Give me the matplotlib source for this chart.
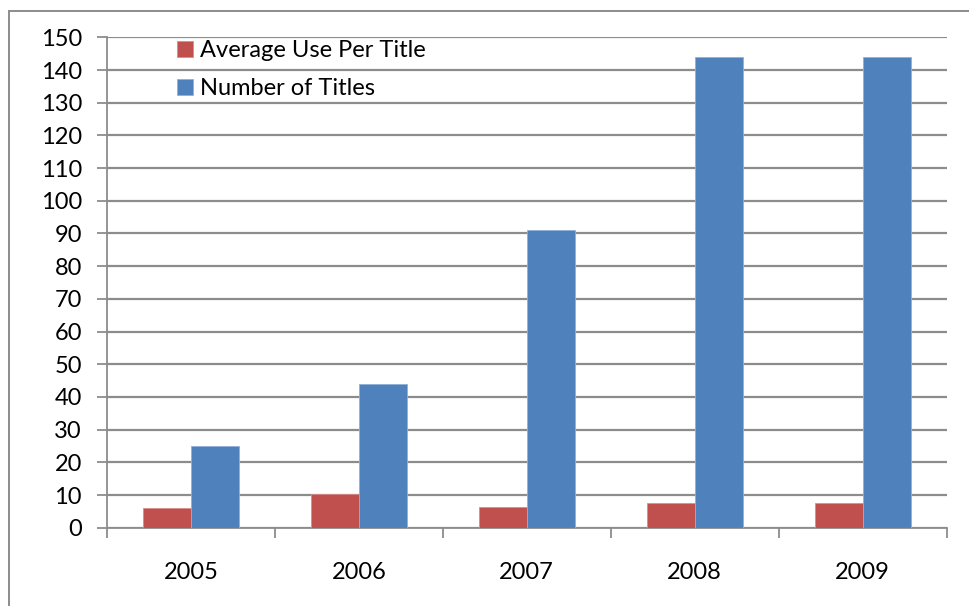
import matplotlib
matplotlib.use("Agg")
import matplotlib.pyplot as plt
import numpy as np
from matplotlib.lines import Line2D

plt.rcParams['font.family'] = ['Lato', 'DejaVu Sans']

years = ["2005", "2006", "2007", "2008", "2009"]
avg_use_per_title = [6.1, 10.3, 6.3, 7.7, 7.5]
number_of_titles = [25, 44, 91, 144, 144]
y_ticks = list(range(0, 151, 10))

RED = "#C0504D"
BLUE = "#4F81BD"
GRID = "#8C8C8C"

fig = plt.figure(figsize=(9.69, 6.06), dpi=100)
ax = fig.add_axes([0.1104, 0.1292, 0.8664, 0.8092])

x = np.arange(len(years))
w = 1 / 3.5
ax.bar(x - w / 2, avg_use_per_title, width=w, color=RED, edgecolor="#D98C8A",
       linewidth=0.6, label="Average Use Per Title", zorder=3)
ax.bar(x + w / 2, number_of_titles, width=w, color=BLUE, edgecolor="#8FB0DA",
       linewidth=0.6, label="Number of Titles", zorder=3)

ax.set_xlim(-0.5, len(years) - 0.5)
ax.set_ylim(0, 150)
ax.set_yticks(y_ticks)
ax.set_yticklabels([str(v) for v in y_ticks])
ax.yaxis.grid(True, color=GRID, linewidth=1.6, zorder=0)
ax.set_axisbelow(True)

# category labels centred, tick marks on the category boundaries
ax.set_xticks(x)
ax.set_xticklabels(years)
ax.set_xticks(np.arange(-0.5, len(years)), minor=True)
ax.tick_params(axis="x", which="major", length=0, pad=25, labelsize=17)
ax.tick_params(axis="x", which="minor", length=7, width=1.3, color=GRID,
               direction="out")
ax.tick_params(axis="y", length=7, width=1.3, color=GRID, pad=11, labelsize=17)

for side in ("top", "right"):
    ax.spines[side].set_visible(False)
for side in ("left", "bottom"):
    ax.spines[side].set_color(GRID)
    ax.spines[side].set_linewidth(1.3)

leg = ax.legend(loc="upper left", bbox_to_anchor=(0.0834, 0.994),
                frameon=False, fontsize=17, handlelength=0.66, handleheight=0.66,
                handletextpad=0.3, labelspacing=0.72, borderpad=0,
                borderaxespad=0)

# chart area border (left and top edges)
fig.add_artist(Line2D([9 / 969, 9 / 969], [0, 1 - 11 / 606],
                      transform=fig.transFigure, color=GRID, linewidth=1.4))
fig.add_artist(Line2D([9 / 969, 1], [1 - 11 / 606, 1 - 11 / 606],
                      transform=fig.transFigure, color=GRID, linewidth=1.4))

fig.savefig("out.png", dpi=100)
